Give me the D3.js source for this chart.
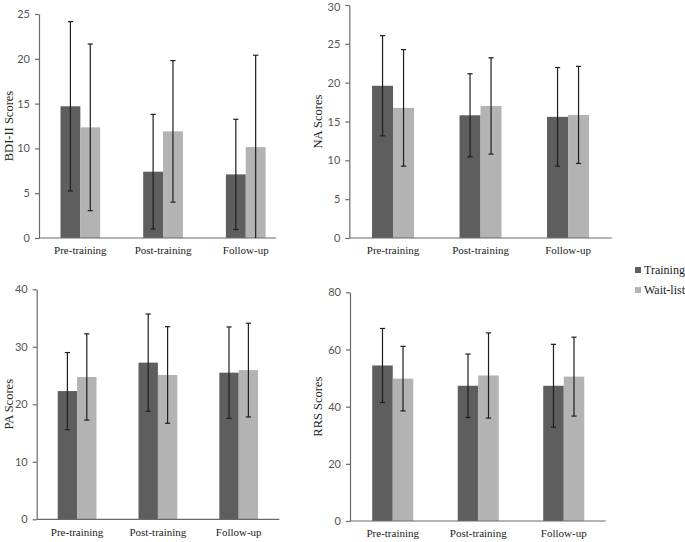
<!DOCTYPE html>
<html>
<head>
<meta charset="utf-8">
<script src="https://cdn.jsdelivr.net/npm/d3@7"></script>
<style>
  html, body { margin: 0; padding: 0; background: #ffffff; }
  svg { display: block; }
</style>
</head>
<body>
<svg id="chart" width="685" height="542"></svg>
<script>
// ---------- data ----------
const categories = ["Pre-training", "Post-training", "Follow-up"];
const groups = ["Training", "Wait-list"];

const bdiTraining = [14.7, 7.4, 7.1];
const bdiTrainingSD = [9.45, 6.4, 6.15];
const bdiWaitlist = [12.35, 11.9, 10.15];
const bdiWaitlistSD = [9.3, 7.9, 10.25];
const bdiTicks = [0, 5, 10, 15, 20, 25];

const naTraining = [19.6, 15.8, 15.6];
const naTrainingSD = [6.45, 5.35, 6.35];
const naWaitlist = [16.75, 17.0, 15.85];
const naWaitlistSD = [7.5, 6.2, 6.25];
const naTicks = [0, 5, 10, 15, 20, 25, 30];

const paTraining = [22.3, 27.25, 25.5];
const paTrainingSD = [6.7, 8.45, 7.95];
const paWaitlist = [24.75, 25.1, 25.95];
const paWaitlistSD = [7.5, 8.4, 8.15];
const paTicks = [0, 10, 20, 30, 40];

const rrsTraining = [54.4, 47.3, 47.3];
const rrsTrainingSD = [12.95, 11.1, 14.5];
const rrsWaitlist = [49.8, 50.9, 50.5];
const rrsWaitlistSD = [11.3, 14.9, 13.8];
const rrsTicks = [0, 20, 40, 60, 80];

// ---------- styles ----------
const colors = { "Training": "#5e5e5e", "Wait-list": "#b3b3b3" };
const serif = "'Liberation Serif', 'Times New Roman', serif";
const sans = "Lato, 'Open Sans', sans-serif";

const svg = d3.select("#chart");

const panels = [
  { title: "BDI-II Scores", tr: bdiTraining, trSD: bdiTrainingSD, wl: bdiWaitlist, wlSD: bdiWaitlistSD, ticks: bdiTicks,
    x0: 39, step: 82.7, xEnd: 276, y0: 238, yTop: 14, titleX: 9, labelY: 254 },
  { title: "NA Scores", tr: naTraining, trSD: naTrainingSD, wl: naWaitlist, wlSD: naWaitlistSD, ticks: naTicks,
    x0: 349.3, step: 87.5, xEnd: 611.7, y0: 238, yTop: 5, titleX: 318, labelY: 254 },
  { title: "PA Scores", tr: paTraining, trSD: paTrainingSD, wl: paWaitlist, wlSD: paWaitlistSD, ticks: paTicks,
    x0: 36.7, step: 80.8, xEnd: 279.3, y0: 519.3, yTop: 289.3, titleX: 9, labelY: 536 },
  { title: "RRS Scores", tr: rrsTraining, trSD: rrsTrainingSD, wl: rrsWaitlist, wlSD: rrsWaitlistSD, ticks: rrsTicks,
    x0: 350, step: 85.5, xEnd: 605.7, y0: 521, yTop: 292.3, titleX: 318, labelY: 537 }
];

panels.forEach(p => {
  const g = svg.append("g");
  const maxV = p.ticks[p.ticks.length - 1];
  const x = d3.scaleBand().domain(categories).range([p.x0, p.x0 + 3 * p.step]).paddingInner(0).paddingOuter(0);
  const xs = d3.scaleBand().domain(groups).range([0.26 * x.bandwidth(), 0.74 * x.bandwidth()]);
  const y = d3.scaleLinear().domain([0, maxV]).range([p.y0, p.yTop]);

  // y axis
  const yAxis = d3.axisLeft(y).tickValues(p.ticks).tickSize(4).tickPadding(5).tickSizeOuter(0);
  const ya = g.append("g").attr("transform", `translate(${p.x0},0)`).call(yAxis);
  ya.select(".domain").attr("stroke", "#6a6a6a").attr("stroke-width", 1.2);
  ya.selectAll(".tick line").attr("stroke", "#6a6a6a").attr("stroke-width", 1.2);
  ya.selectAll(".tick text").attr("font-family", sans).attr("font-size", 11).attr("fill", "#555")
    .attr("dy", d => (y(d) < 8 ? "0.5em" : "0.32em"));

  // bars
  const rows = [];
  categories.forEach((c, i) => {
    rows.push({ c, grp: "Training", v: p.tr[i], sd: p.trSD[i] });
    rows.push({ c, grp: "Wait-list", v: p.wl[i], sd: p.wlSD[i] });
  });
  g.selectAll("rect.bar").data(rows).enter().append("rect")
    .attr("class", "bar")
    .attr("x", d => x(d.c) + xs(d.grp))
    .attr("width", xs.bandwidth())
    .attr("y", d => y(d.v))
    .attr("height", d => y(0) - y(d.v))
    .attr("fill", d => colors[d.grp]);

  // x axis line
  g.append("line").attr("x1", p.x0).attr("x2", p.xEnd).attr("y1", y(0)).attr("y2", y(0))
    .attr("stroke", "#6a6a6a").attr("stroke-width", 1.2);

  // error bars
  const cap = 2.6;
  rows.forEach(d => {
    const cx = x(d.c) + xs(d.grp) + xs.bandwidth() / 2;
    const hi = y(d.v + d.sd);
    const loVal = Math.max(0, d.v - d.sd);
    const lo = y(loVal);
    g.append("line").attr("x1", cx).attr("x2", cx).attr("y1", hi).attr("y2", lo)
      .attr("stroke", "#1e1e1e").attr("stroke-width", 1.2);
    g.append("line").attr("x1", cx - cap).attr("x2", cx + cap).attr("y1", hi).attr("y2", hi)
      .attr("stroke", "#1e1e1e").attr("stroke-width", 1.2);
    if (loVal > 0) {
      g.append("line").attr("x1", cx - cap).attr("x2", cx + cap).attr("y1", lo).attr("y2", lo)
        .attr("stroke", "#1e1e1e").attr("stroke-width", 1.2);
    }
  });

  // category labels
  g.selectAll("text.cat").data(categories).enter().append("text")
    .attr("class", "cat")
    .attr("x", d => x(d) + x.bandwidth() / 2)
    .attr("y", p.labelY)
    .attr("text-anchor", "middle")
    .attr("font-family", serif).attr("font-size", 11).attr("fill", "#222")
    .text(d => d);

  // y axis title
  const cy = (p.y0 + p.yTop) / 2;
  g.append("text")
    .attr("transform", `translate(${p.titleX + 4},${cy}) rotate(-90)`)
    .attr("text-anchor", "middle")
    .attr("font-family", serif).attr("font-size", 12.5).attr("fill", "#222")
    .text(p.title);
});

// legend
const legend = svg.append("g");
groups.forEach((gname, i) => {
  const ly = 270 + i * 20;
  legend.append("rect").attr("x", 635).attr("y", ly - 3).attr("width", 6).attr("height", 6).attr("fill", colors[gname]);
  legend.append("text").attr("x", 644).attr("y", ly + 4)
    .attr("font-family", serif).attr("font-size", 12).attr("fill", "#222").text(gname);
});
</script>
</body>
</html>
